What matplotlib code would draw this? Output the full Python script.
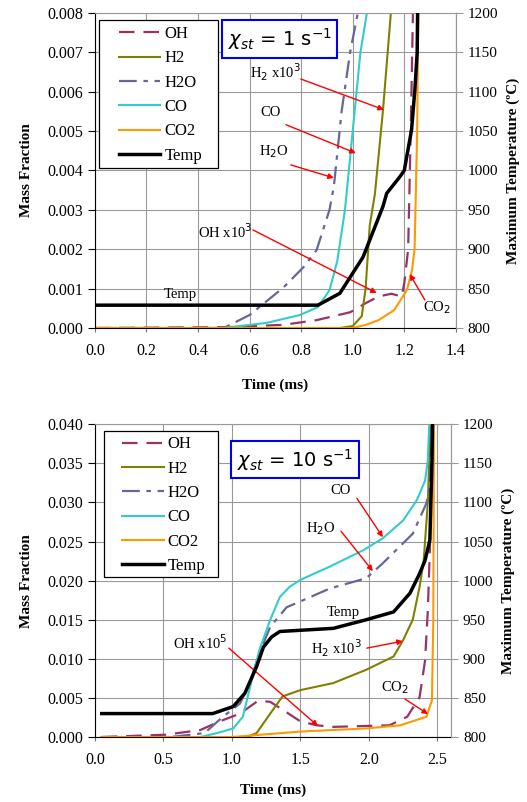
import matplotlib.pyplot as plt
from matplotlib.lines import Line2D
from matplotlib.patches import Rectangle

plt.rcParams['font.family'] = ['Liberation Serif', 'DejaVu Serif']
plt.rcParams['font.size'] = 10.5

# ---------- painel de cima (chi = 1 1/s) ----------
t_oh_1 = [0.0, 0.5, 0.73, 0.86, 0.99, 1.05, 1.10, 1.15, 1.19, 1.20, 1.215, 1.225, 1.235]
oh_1 = [0, 0.00002, 0.00008, 0.0002, 0.0004, 0.00063, 0.0008, 0.00087, 0.0008, 0.00114, 0.002, 0.005, 0.0085]

t_h2_1 = [0.0, 0.95, 1.0, 1.035, 1.05, 1.066, 1.086, 1.117, 1.148, 1.16]
h2_1 = [0, 0, 0.00005, 0.0003, 0.001, 0.0026, 0.0034, 0.0055, 0.008, 0.0085]

t_h2o_1 = [0.0, 0.50, 0.60, 0.73, 0.81, 0.86, 0.91, 0.927, 0.957, 0.99, 1.02, 1.03]
h2o_1 = [0, 0, 0.00033, 0.00102, 0.00155, 0.00198, 0.003, 0.0036, 0.0055, 0.007, 0.008, 0.0085]

t_co_1 = [0.0, 0.50, 0.535, 0.666, 0.795, 0.865, 0.91, 0.94, 0.97, 0.985, 1.0, 1.03, 1.055, 1.06]
co_1 = [0, 0, 0.00003, 0.00013, 0.00033, 0.00053, 0.00096, 0.0017, 0.003, 0.004, 0.005, 0.007, 0.008, 0.0085]

t_co2_1 = [0.0, 1.0, 1.05, 1.10, 1.16, 1.21, 1.23, 1.24, 1.25, 1.255]
co2_1 = [0, 0, 0.00008, 0.0002, 0.00045, 0.00096, 0.00147, 0.002, 0.005, 0.0085]

t_temp_1 = [0.0, 0.865, 0.95, 1.04, 1.117, 1.132, 1.183, 1.20, 1.228, 1.241, 1.25, 1.252]
temp_1 = [829, 829, 844, 890, 954, 971, 992, 1000, 1051, 1102, 1150, 1210]

# ---------- painel de baixo (chi = 10 1/s) ----------
t_oh_10 = [0.05, 0.52, 0.77, 0.91, 1.06, 1.18, 1.23, 1.28, 1.37, 1.50, 1.62, 1.74, 2.15, 2.28, 2.37, 2.41, 2.43, 2.445, 2.45, 2.455]
oh_10 = [0, 0.0003, 0.0009, 0.002, 0.003, 0.0045, 0.0046, 0.0045, 0.0035, 0.002, 0.0015, 0.0013, 0.0015, 0.0026, 0.0051, 0.0098, 0.0162, 0.024, 0.032, 0.042]

t_h2_10 = [0.05, 1.11, 1.18, 1.28, 1.37, 1.50, 1.74, 1.98, 2.18, 2.25, 2.32, 2.37, 2.40, 2.43, 2.445, 2.45]
h2_10 = [0, 0, 0.0005, 0.003, 0.0052, 0.006, 0.0069, 0.0086, 0.0103, 0.0124, 0.015, 0.0192, 0.0226, 0.030, 0.038, 0.042]

t_h2o_10 = [0.05, 0.55, 0.70, 0.80, 0.935, 1.06, 1.13, 1.20, 1.28, 1.40, 1.52, 1.715, 1.98, 2.10, 2.32, 2.42, 2.445, 2.45]
h2o_10 = [0, 0, 0.0003, 0.0005, 0.0026, 0.0043, 0.0069, 0.0107, 0.0141, 0.0166, 0.0175, 0.019, 0.0203, 0.0222, 0.026, 0.0299, 0.032, 0.042]

t_co_10 = [0.05, 0.77, 0.89, 1.01, 1.08, 1.14, 1.20, 1.28, 1.35, 1.42, 1.50, 1.715, 1.96, 2.10, 2.25, 2.35, 2.41, 2.43, 2.445]
co_10 = [0, 0, 0.0005, 0.0011, 0.0026, 0.0069, 0.0111, 0.015, 0.0179, 0.0192, 0.0201, 0.0218, 0.0239, 0.0254, 0.0277, 0.0303, 0.0328, 0.0354, 0.042]

t_co2_10 = [0.05, 1.0, 1.5, 1.98, 2.23, 2.42, 2.46, 2.47, 2.475]
co2_10 = [0, 0, 0.0007, 0.0011, 0.0015, 0.0026, 0.0047, 0.015, 0.042]

t_temp_10 = [0.05, 0.86, 1.01, 1.095, 1.18, 1.23, 1.29, 1.35, 1.74, 1.98, 2.18, 2.30, 2.37, 2.41, 2.445, 2.46, 2.465]
temp_10 = [830, 830, 839, 856, 890, 915, 928, 935, 939, 950, 960, 984, 1009, 1026, 1052, 1150, 1210]

nomes = ['OH', 'H2', 'H2O', 'CO', 'CO2', 'Temp']
cores = ['#993366', '#808000', '#666699', '#33CCCC', '#FF9900', 'black']
tracos = [(0, (7, 4)), '-', (0, (8, 3, 2, 3)), '-', '-', '-']
larguras = [1.6, 1.5, 1.6, 1.5, 1.5, 2.5]

ticks_temp = [800, 850, 900, 950, 1000, 1050, 1100, 1150, 1200]


def montar_painel(pos, especies, temp, xmax, xticks, ymax, ystep, chi_txt, chi_pos,
                  caixa_leg, ancora_leg, rotulos, pad_x):
    ax = fig.add_axes(pos)
    for (t, y), cor, ls, lw in zip(especies, cores[:5], tracos[:5], larguras[:5]):
        ax.plot(t, y, color=cor, ls=ls, lw=lw)
    ax.set_xlim(0, xmax)
    ax.set_ylim(0, ymax)
    ax.set_xticks(xticks)
    ax.set_xticklabels(['%.1f' % v for v in xticks], fontsize=11.5)
    yt = [i * ystep for i in range(9)]
    ax.set_yticks(yt)
    ax.set_yticklabels(['%.3f' % v for v in yt], fontsize=11.5)
    ax.grid(True, color='#999999', lw=0.8)
    for lado in ['top', 'right']:
        ax.spines[lado].set_color('#999999')
    ax.tick_params(axis='y', direction='out', length=5, width=0.8)
    ax.tick_params(axis='x', direction='out', length=3, width=0.8, color='#777777', pad=8)
    ax.set_xlabel('Time (ms)', fontweight='bold', fontsize=11, labelpad=pad_x)
    ax.set_ylabel('Mass Fraction', fontweight='bold', fontsize=11, labelpad=10)

    ax2 = ax.twinx()
    ax2.plot(temp[0], temp[1], color='black', lw=2.5)
    ax2.set_ylim(800, 1200)
    ax2.set_yticks(ticks_temp)
    ax2.set_yticklabels([str(v) for v in ticks_temp], fontsize=11)
    ax2.tick_params(axis='y', direction='out', length=5, width=0.8, color='#999999')
    for lado in ['top', 'left', 'bottom']:
        ax2.spines[lado].set_visible(False)
    ax2.spines['right'].set_color('#999999')
    ax2.set_ylabel('Maximum Temperature (ºC)', fontweight='bold', fontsize=11, labelpad=6)

    # caixa da legenda desenhada à parte
    x0, y0, x1, y1 = caixa_leg
    ax2.add_patch(Rectangle((x0, y0), x1 - x0, y1 - y0, transform=ax.transAxes,
                            fc='white', ec='black', lw=0.9, zorder=4))
    handles = [Line2D([], [], color=c, ls=l, lw=w) for c, l, w in zip(cores, tracos, larguras)]
    ax2.legend(handles, nomes, loc='upper left', bbox_to_anchor=ancora_leg,
               borderaxespad=0, borderpad=0, frameon=False,
               handlelength=2.5, handletextpad=0.25, labelspacing=0.5, fontsize=12)

    ax2.text(chi_pos[0], chi_pos[1], chi_txt, transform=ax.transAxes, ha='center', va='center',
             fontsize=14, family='DejaVu Sans', zorder=6,
             bbox=dict(boxstyle='square,pad=0.3', fc='white', ec='#0000EE', lw=1.5))

    for txt, tx, ty, seta in rotulos:
        ax.text(tx, ty, txt, ha='center', va='center', fontsize=10.5)
        if seta is not None:
            ax.annotate('', xy=seta[2:], xytext=seta[:2],
                        arrowprops=dict(arrowstyle='-|>', color='red', lw=1.0,
                                        mutation_scale=8, shrinkA=0, shrinkB=0))
    return ax, ax2


fig = plt.figure(figsize=(5.27, 8.02), dpi=100)

rotulos_1 = [
    ('H$_2$ x10$^3$', 0.702, 0.0065, (0.799, 0.00632, 1.121, 0.00554)),
    ('CO', 0.682, 0.00546, (0.741, 0.00516, 1.012, 0.00444)),
    ('H$_2$O', 0.694, 0.00447, (0.760, 0.00414, 0.927, 0.00381)),
    ('OH x10$^3$', 0.504, 0.00244, (0.613, 0.00249, 1.093, 0.00089)),
    ('Temp', 0.330, 0.00084, None),
    ('CO$_2$', 1.326, 0.00051, (1.280, 0.00071, 1.221, 0.00137)),
]
montar_painel([0.180, 0.591, 0.685, 0.393],
              [(t_oh_1, oh_1), (t_h2_1, h2_1), (t_h2o_1, h2o_1), (t_co_1, co_1), (t_co2_1, co2_1)],
              (t_temp_1, temp_1), 1.4, [0.0, 0.2, 0.4, 0.6, 0.8, 1.0, 1.2, 1.4], 0.008, 0.001,
              r'$\chi_{st}$ = 1 s$^{-1}$', (0.512, 0.917),
              (0.011, 0.508, 0.341, 0.978), (0.066, 0.958), rotulos_1, 14)

rotulos_10 = [
    ('OH x10$^5$', 0.766, 0.01201, (0.978, 0.01137, 1.628, 0.00141)),
    ('Temp', 1.810, 0.01597, None),
    ('H$_2$ x10$^3$', 1.766, 0.01137, (1.985, 0.01137, 2.248, 0.01227)),
    ('CO$_2$', 2.190, 0.00626, (2.263, 0.00486, 2.431, 0.00294)),
    ('CO', 1.796, 0.03157, (1.912, 0.03054, 2.102, 0.02556)),
    ('H$_2$O', 1.650, 0.02671, (1.796, 0.02633, 2.029, 0.02121)),
]
montar_painel([0.180, 0.081, 0.676, 0.390],
              [(t_oh_10, oh_10), (t_h2_10, h2_10), (t_h2o_10, h2o_10), (t_co_10, co_10), (t_co2_10, co2_10)],
              (t_temp_10, temp_10), 2.6, [0.0, 0.5, 1.0, 1.5, 2.0, 2.5], 0.040, 0.005,
              r'$\chi_{st}$ = 10 s$^{-1}$', (0.562, 0.887),
              (0.025, 0.511, 0.346, 0.978), (0.076, 0.961), rotulos_10, 11)

fig.savefig('out.png', dpi=100)
